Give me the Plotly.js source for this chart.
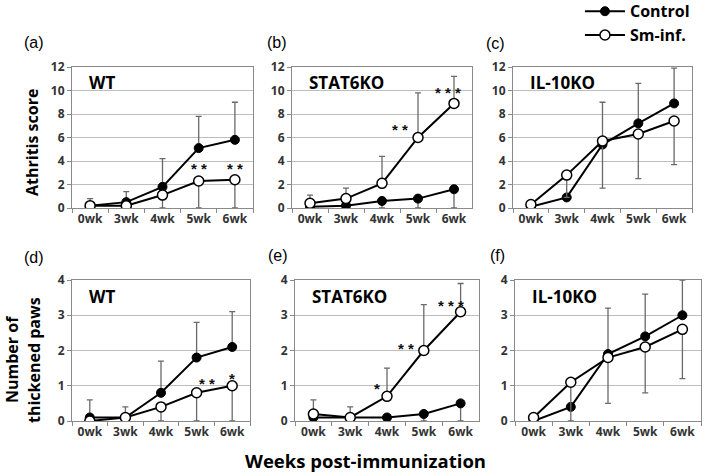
<!DOCTYPE html>
<html><head><meta charset="utf-8">
<script src="https://cdn.plot.ly/plotly-3.0.1.min.js"></script>
<style>html,body{margin:0;padding:0;background:#fff}#chart{width:709px;height:475px}</style>
</head><body><div id="chart"></div>
<script>
// ---- data ----
const weeks = ['0wk','3wk','4wk','5wk','6wk'];
const seriesNames = ['Control','Sm-inf.'];

// (a) WT - Athritis score
const ctrlA = [0.2,0.5,1.8,5.1,5.8];
const ctrlAPlus = [0.6,0.9,2.4,2.7,3.2];
const ctrlAMinus = [0,0,0,0,0];
const smA = [0.2,0.2,1.1,2.3,2.4];
const smAPlus = [0,0,0,0,0];
const smAMinus = [0,0,1.1,2.3,2.4];
// (b) STAT6KO - Athritis score
const ctrlB = [0.1,0.2,0.6,0.8,1.6];
const ctrlBPlus = [0,0,0,0,0];
const ctrlBMinus = [0,0,0.6,0.8,1.6];
const smB = [0.4,0.8,2.1,6.0,8.9];
const smBPlus = [0.7,0.9,2.3,3.8,2.3];
const smBMinus = [0,0,0,0,0];
// (c) IL-10KO - Athritis score
const ctrlC = [0.1,0.9,5.4,7.2,8.9];
const ctrlCPlus = [0,0,3.6,3.4,3.0];
const ctrlCMinus = [0,0,0,0,0];
const smC = [0.3,2.8,5.7,6.3,7.4];
const smCPlus = [0,0,0,0,0];
const smCMinus = [0,1.9,4.0,3.8,3.7];
// (d) WT - Number of thickened paws
const ctrlD = [0.1,0.1,0.8,1.8,2.1];
const ctrlDPlus = [0.5,0.3,0.9,1.0,1.0];
const ctrlDMinus = [0,0,0,0,0];
const smD = [0.0,0.1,0.4,0.8,1.0];
const smDPlus = [0,0,0,0,0];
const smDMinus = [0,0,0.4,0.8,1.0];
// (e) STAT6KO - Number of thickened paws
const ctrlE = [0.1,0.1,0.1,0.2,0.5];
const ctrlEPlus = [0,0,0,0,0];
const ctrlEMinus = [0,0,0,0.2,0.5];
const smE = [0.2,0.1,0.7,2.0,3.1];
const smEPlus = [0.4,0.3,0.8,1.3,0.8];
const smEMinus = [0,0,0,0,0];
// (f) IL-10KO - Number of thickened paws
const ctrlF = [0.0,0.4,1.9,2.4,3.0];
const ctrlFPlus = [0,0,1.3,1.2,1.0];
const ctrlFMinus = [0,0,0,0,0];
const smF = [0.1,1.1,1.8,2.1,2.6];
const smFPlus = [0,0,0,0,0];
const smFMinus = [0,1.1,1.3,1.3,1.4];

// significance marks (category index, value, label)
const sigAX = [3,4], sigAY = [3.6,3.6], sigAText = ['* *','* *'];
const sigBX = [2.5,3.83], sigBY = [6.9,10.1], sigBText = ['* *','* * *'];
const sigDX = [3.3,4.0], sigDY = [1.15,1.3], sigDText = ['* *','*'];
const sigEX = [1.73,2.52,3.74], sigEY = [1.02,2.15,3.35], sigEText = ['*','* *','* * *'];

const panelLetters = ['(a)','(b)','(c)','(d)','(e)','(f)'];
const strainNames = ['WT','STAT6KO','IL-10KO','WT','STAT6KO','IL-10KO'];

// ---- build ----
const panels = [
  {c:ctrlA,cp:ctrlAPlus,cm:ctrlAMinus,s:smA,sp:smAPlus,sm:smAMinus,sx:sigAX,sy:sigAY,st:sigAText},
  {c:ctrlB,cp:ctrlBPlus,cm:ctrlBMinus,s:smB,sp:smBPlus,sm:smBMinus,sx:sigBX,sy:sigBY,st:sigBText},
  {c:ctrlC,cp:ctrlCPlus,cm:ctrlCMinus,s:smC,sp:smCPlus,sm:smCMinus,sx:[],sy:[],st:[]},
  {c:ctrlD,cp:ctrlDPlus,cm:ctrlDMinus,s:smD,sp:smDPlus,sm:smDMinus,sx:sigDX,sy:sigDY,st:sigDText},
  {c:ctrlE,cp:ctrlEPlus,cm:ctrlEMinus,s:smE,sp:smEPlus,sm:smEMinus,sx:sigEX,sy:sigEY,st:sigEText},
  {c:ctrlF,cp:ctrlFPlus,cm:ctrlFMinus,s:smF,sp:smFPlus,sm:smFMinus,sx:[],sy:[],st:[]}
];

const W = 709, H = 475;
const px = v => v / W;
const py = v => 1 - v / H;
// pixel boxes [left,right,top,bottom]
const boxes = [
  [72,253,67,208],[292,472,67,208],[513,692,67,208],
  [72,250,280,421],[295,479,280,421],[515,701,280,421]
];

const errStyle = {color:'#6a6a6a', thickness:1.3, width:3};
const traces = [];
const annotations = [];
const layout = {
  width: W, height: H,
  margin: {l:0,r:0,t:0,b:0, autoexpand:false},
  paper_bgcolor:'#fff', plot_bgcolor:'#fff',
  font: {family:'Open Sans, DejaVu Sans, sans-serif', color:'#000'},
  showlegend: true,
  legend: {x:0.818, y:1.012, xanchor:'left', yanchor:'top', bgcolor:'rgba(0,0,0,0)',
           font:{family:'Open Sans', size:16, weight:'bold', color:'#000'}, itemwidth:40, tracegroupgap:0},
  annotations: annotations
};
const tickFont = {family:'Open Sans', size:12, weight:'bold', color:'#333'};

panels.forEach((p, i) => {
  const n = i + 1;
  const xa = n === 1 ? 'x' : 'x' + n;
  const ya = n === 1 ? 'y' : 'y' + n;
  const b = boxes[i];
  const top = i < 3;
  layout[n === 1 ? 'xaxis' : 'xaxis' + n] = {
    domain:[px(b[0]), px(b[1])], anchor: ya, type:'category',
    range:[-0.5,4.5], tickson:'boundaries', ticks:'outside', ticklen:4, tickcolor:'#8a8a8a',
    showline:true, mirror:true, linecolor:'#8a8a8a', linewidth:1, showgrid:false,
    tickfont: tickFont, fixedrange:true
  };
  layout[n === 1 ? 'yaxis' : 'yaxis' + n] = {
    domain:[py(b[3]), py(b[2])], anchor: xa,
    range: top ? [0,12] : [0,4], dtick: top ? 2 : 1, tick0:0,
    ticks:'outside', ticklen:4, tickcolor:'#8a8a8a',
    showline:true, mirror:true, linecolor:'#8a8a8a', linewidth:1,
    showgrid:true, gridcolor:'#bdbdbd', gridwidth:1, zeroline:false,
    tickfont: tickFont, fixedrange:true
  };
  traces.push({
    type:'scatter', mode:'lines+markers', x:weeks, y:p.c, xaxis:xa, yaxis:ya,
    name:seriesNames[0], showlegend: i === 0, legendgroup:'c',
    line:{color:'#000', width:2},
    marker:{symbol:'circle', size:9, color:'#000', line:{color:'#000', width:1}},
    error_y:Object.assign({type:'data', symmetric:false, array:p.cp, arrayminus:p.cm}, errStyle),
    hoverinfo:'skip'
  });
  traces.push({
    type:'scatter', mode:'lines+markers', x:weeks, y:p.s, xaxis:xa, yaxis:ya,
    name:seriesNames[1], showlegend: i === 0, legendgroup:'s',
    line:{color:'#000', width:2},
    marker:{symbol:'circle', size:10, color:'#fff', line:{color:'#000', width:1.5}},
    error_y:Object.assign({type:'data', symmetric:false, array:p.sp, arrayminus:p.sm}, errStyle),
    hoverinfo:'skip'
  });
  // significance stars
  p.sx.forEach((sx, k) => {
    annotations.push({xref:xa, yref:ya, x:sx, y:p.sy[k], text:p.st[k], showarrow:false,
      yshift:-3,
      font:{family:'Liberation Sans', size:15, weight:'bold', color:'#111'}});
  });
  // strain name inside plot
  annotations.push({xref:'paper', yref:'paper', x:px(b[0] + 15), y:py(top ? 82 : 296),
    xanchor:'left', yanchor:'middle', text:strainNames[i], showarrow:false,
    font:{family:'Open Sans', size:17, weight:'bold', color:'#000'}});
});

// panel letters
const letterPos = [[34,42],[277,42],[495,43],[34,257],[278,255],[497,255]];
panelLetters.forEach((t, i) => {
  annotations.push({xref:'paper', yref:'paper', x:px(letterPos[i][0]), y:py(letterPos[i][1]),
    xanchor:'center', yanchor:'middle', text:t, showarrow:false,
    font:{family:'Liberation Sans', size:16, color:'#000'}});
});

// axis titles
const titleFont = {family:'Open Sans', size:16, weight:'bold', color:'#000'};
annotations.push({xref:'paper', yref:'paper', x:px(32), y:py(143), text:'Athritis score',
  textangle:-90, showarrow:false, xanchor:'center', yanchor:'middle', font:titleFont});
annotations.push({xref:'paper', yref:'paper', x:px(12), y:py(360), text:'Number of',
  textangle:-90, showarrow:false, xanchor:'center', yanchor:'middle', font:titleFont});
annotations.push({xref:'paper', yref:'paper', x:px(34), y:py(360), text:'thickened paws',
  textangle:-90, showarrow:false, xanchor:'center', yanchor:'middle', font:titleFont});
annotations.push({xref:'paper', yref:'paper', x:px(365), y:py(460), text:'Weeks post-immunization',
  showarrow:false, xanchor:'center', yanchor:'middle',
  font:{family:'Open Sans', size:18.5, weight:'bold', color:'#000'}});

Plotly.newPlot('chart', traces, layout, {displayModeBar:false, staticPlot:true});
</script>
</body></html>
